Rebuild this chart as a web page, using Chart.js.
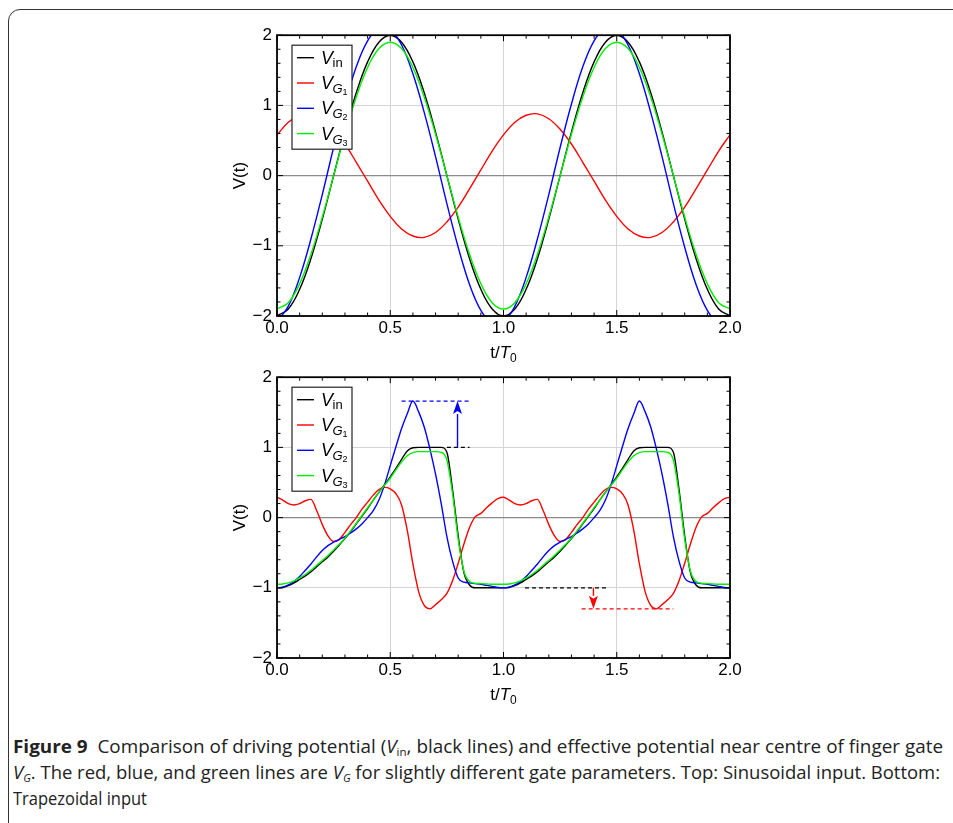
<!DOCTYPE html>
<html>
<head>
<meta charset="utf-8">
<script src="https://cdn.jsdelivr.net/npm/chart.js@4.4.1/dist/chart.umd.min.js"></script>
<style>
    html, body { margin: 0; padding: 0; background: #fff; width: 953px; height: 823px; overflow: hidden; }
    #frame { position: absolute; left: 8px; top: 9px; width: 1000px; height: 900px; border: 1.6px solid #333; border-top-left-radius: 12px; }
    canvas { position: absolute; }
    #topChart { left: 200px; top: 20px; }
    #bottomChart { left: 200px; top: 362px; }
    #caption { position: absolute; left: 13px; top: 733px; font-family: "Open Sans"; font-size: 18px; line-height: 26px; color: #222; }
    #caption .cl { white-space: nowrap; width: max-content; transform-origin: 0 0; }
    #caption sub { font-size: 11px; vertical-align: -3px; line-height: 0; }
</style>
</head>
<body>
<div id="frame"></div>
<canvas id="topChart" width="560" height="345"></canvas>
<canvas id="bottomChart" width="560" height="345"></canvas>
<div id="caption">
    <div class="cl"><b>Figure 9</b>&nbsp; Comparison of driving potential (<i>V</i><sub>in</sub>, black lines) and effective potential near centre of finger gate</div>
    <div class="cl"><i>V</i><sub><i>G</i></sub>. The red, blue, and green lines are <i>V</i><sub><i>G</i></sub> for slightly different gate parameters. Top: Sinusoidal input. Bottom:</div>
    <div class="cl">Trapezoidal input</div>
</div>
<script>
// --- Data: top panel (sinusoidal input) ---
const tTop = [0, 0.05, 0.1, 0.15, 0.2, 0.25, 0.3, 0.35, 0.4, 0.45, 0.5, 0.55, 0.6, 0.65, 0.7, 0.75, 0.8, 0.85, 0.9, 0.95,
    1, 1.05, 1.1, 1.15, 1.2, 1.25, 1.3, 1.35, 1.4, 1.45, 1.5, 1.55, 1.6, 1.65, 1.7, 1.75, 1.8, 1.85, 1.9, 1.95, 2];
const vinSine = [-2, -1.90, -1.62, -1.18, -0.62, 0, 0.62, 1.18, 1.62, 1.90, 2, 1.90, 1.62, 1.18, 0.62, 0, -0.62, -1.18, -1.62, -1.90,
    -2, -1.90, -1.62, -1.18, -0.62, 0, 0.62, 1.18, 1.62, 1.90, 2, 1.90, 1.62, 1.18, 0.62, 0, -0.62, -1.18, -1.62, -1.90, -2];
const vg1Sine = [0.58, 0.76, 0.86, 0.88, 0.81, 0.66, 0.45, 0.19, -0.08, -0.35, -0.58, -0.76, -0.86, -0.88, -0.81, -0.66, -0.45, -0.19, 0.08, 0.35,
    0.58, 0.76, 0.86, 0.88, 0.81, 0.66, 0.45, 0.19, -0.08, -0.35, -0.58, -0.76, -0.86, -0.88, -0.81, -0.66, -0.45, -0.19, 0.08, 0.35, 0.58];
const vg2Sine = [-2.08, -1.86, -1.45, -0.90, -0.27, 0.40, 1.02, 1.55, 1.92, 2.10, 2.08, 1.86, 1.45, 0.90, 0.27, -0.40, -1.02, -1.55, -1.92, -2.10,
    -2.08, -1.86, -1.45, -0.90, -0.27, 0.40, 1.02, 1.55, 1.92, 2.10, 2.08, 1.86, 1.45, 0.90, 0.27, -0.40, -1.02, -1.55, -1.92, -2.10, -2.08];
const vg3Sine = [-1.90, -1.81, -1.54, -1.12, -0.59, 0, 0.59, 1.12, 1.54, 1.81, 1.90, 1.81, 1.54, 1.12, 0.59, 0, -0.59, -1.12, -1.54, -1.81,
    -1.90, -1.81, -1.54, -1.12, -0.59, 0, 0.59, 1.12, 1.54, 1.81, 1.90, 1.81, 1.54, 1.12, 0.59, 0, -0.59, -1.12, -1.54, -1.81, -1.90];

// --- Data: bottom panel (trapezoidal input) ---
const tTrap = [0, 0.025, 0.05, 0.075, 0.1, 0.125, 0.15, 0.175, 0.2, 0.225, 0.25, 0.275, 0.3, 0.325, 0.35, 0.375, 0.4, 0.425, 0.45, 0.475,
    0.5, 0.525, 0.55, 0.575, 0.6, 0.625, 0.65, 0.675, 0.7, 0.725, 0.75, 0.775, 0.8, 0.825, 0.85, 0.875, 0.9, 0.925, 0.95, 0.975,
    1, 1.025, 1.05, 1.075, 1.1, 1.125, 1.15, 1.175, 1.2, 1.225, 1.25, 1.275, 1.3, 1.325, 1.35, 1.375, 1.4, 1.425, 1.45, 1.475,
    1.5, 1.525, 1.55, 1.575, 1.6, 1.625, 1.65, 1.675, 1.7, 1.725, 1.75, 1.775, 1.8, 1.825, 1.85, 1.875, 1.9, 1.925, 1.95, 1.975, 2];
const vinTrap = [-1, -0.995, -0.97, -0.93, -0.88, -0.83, -0.77, -0.70, -0.63, -0.56, -0.48, -0.39, -0.30, -0.20, -0.09, 0.02, 0.13, 0.25, 0.36, 0.47,
    0.58, 0.70, 0.83, 0.95, 0.995, 1, 1, 1, 1, 1, 0.93, 0.40, -0.26, -0.78, -0.96, -1, -1, -1, -1, -1,
    -1, -0.995, -0.97, -0.93, -0.88, -0.83, -0.77, -0.70, -0.63, -0.56, -0.48, -0.39, -0.30, -0.20, -0.09, 0.02, 0.13, 0.25, 0.36, 0.47,
    0.58, 0.70, 0.83, 0.95, 0.995, 1, 1, 1, 1, 1, 0.93, 0.40, -0.26, -0.78, -0.96, -1, -1, -1, -1, -1, -1];
const vg1Trap = [0.29, 0.25, 0.20, 0.18, 0.20, 0.24, 0.26, 0.10, -0.10, -0.26, -0.34, -0.31, -0.21, -0.10, 0.00, 0.12, 0.22, 0.32, 0.40, 0.43,
    0.41, 0.34, 0.18, -0.18, -0.66, -1.05, -1.25, -1.30, -1.24, -1.17, -1.08, -0.90, -0.65, -0.38, -0.14, 0.01, 0.06, 0.14, 0.21, 0.27,
    0.29, 0.25, 0.20, 0.18, 0.20, 0.24, 0.26, 0.10, -0.10, -0.26, -0.34, -0.31, -0.21, -0.10, 0.00, 0.12, 0.22, 0.32, 0.40, 0.43,
    0.41, 0.34, 0.18, -0.18, -0.66, -1.05, -1.25, -1.30, -1.24, -1.17, -1.08, -0.90, -0.65, -0.38, -0.14, 0.01, 0.06, 0.14, 0.21, 0.27, 0.29];
const vg2Trap = [-1, -0.99, -0.96, -0.91, -0.84, -0.75, -0.66, -0.56, -0.47, -0.40, -0.35, -0.31, -0.27, -0.22, -0.16, -0.09, 0.00, 0.10, 0.25, 0.47,
    0.74, 1.01, 1.27, 1.48, 1.66, 1.51, 1.29, 0.98, 0.62, 0.20, -0.27, -0.62, -0.86, -0.92, -0.93, -0.94, -0.95, -0.965, -0.98, -0.995,
    -1, -0.99, -0.96, -0.91, -0.84, -0.75, -0.66, -0.56, -0.47, -0.40, -0.35, -0.31, -0.27, -0.22, -0.16, -0.09, 0.00, 0.10, 0.25, 0.47,
    0.74, 1.01, 1.27, 1.48, 1.66, 1.51, 1.29, 0.98, 0.62, 0.20, -0.27, -0.62, -0.86, -0.92, -0.93, -0.94, -0.95, -0.965, -0.98, -0.995, -1];
const vg3Trap = [-0.95, -0.945, -0.93, -0.90, -0.86, -0.81, -0.75, -0.68, -0.61, -0.54, -0.46, -0.38, -0.29, -0.19, -0.08, 0.03, 0.14, 0.25, 0.36, 0.46,
    0.56, 0.68, 0.79, 0.88, 0.925, 0.94, 0.94, 0.94, 0.94, 0.93, 0.82, 0.34, -0.31, -0.76, -0.91, -0.935, -0.94, -0.945, -0.95, -0.95,
    -0.95, -0.945, -0.93, -0.90, -0.86, -0.81, -0.75, -0.68, -0.61, -0.54, -0.46, -0.38, -0.29, -0.19, -0.08, 0.03, 0.14, 0.25, 0.36, 0.46,
    0.56, 0.68, 0.79, 0.88, 0.925, 0.94, 0.94, 0.94, 0.94, 0.93, 0.82, 0.34, -0.31, -0.76, -0.91, -0.935, -0.94, -0.945, -0.95, -0.95, -0.95];

// overshoot / undershoot guides in the bottom panel
const blueLevelT = [0.55, 0.85], blueLevelV = [1.66, 1.66];
const vinHighT = [0.75, 0.85], vinHighV = [1, 1];
const vinLowT = [1.095, 1.455], vinLowV = [-1, -1];
const redLevelT = [1.345, 1.75], redLevelV = [-1.3, -1.3];
const arrowT = [0.797, 1.397], arrowFromV = [1, -1], arrowToV = [1.66, -1.3];

// tick labels
const xTicks = [0, 0.5, 1, 1.5, 2];
const yTicks = [-2, -1, 0, 1, 2];
const legendSubs = ['in', 'G1', 'G2', 'G3'];

// --- Styles ---
const FONT = '"Liberation Sans", Arial, sans-serif';
const colors = ['#000000', '#ff0000', '#0000ff', '#00f000'];
const arrowColors = ['#0000ff', '#ff0000'];
const captionWidths = [930, 927, 134];
Chart.defaults.font.family = FONT;

const pts = (ts, vs) => ts.map((t, i) => ({ x: t, y: vs[i] }));

function curves(series, smooth) {
    return series.map((vs, i) => Object.assign({
        data: pts(series.ts, vs),
        borderColor: colors[i],
        borderWidth: 1.4,
        pointRadius: 0,
        fill: false,
        order: 3 - i
    }, smooth));
}

function guide(ts, vs, color) {
    return { data: pts(ts, vs), borderColor: color, borderWidth: 1.3, borderDash: [4, 3], pointRadius: 0, tension: 0, order: 5 };
}

// --- Plugins ---
const legendBox = {
    id: 'legendBox',
    afterDatasetsDraw(chart) {
        const { ctx, chartArea: a } = chart;
        const bx = a.left + 15, by = a.top + 10, bw = 60, bh = 104;
        ctx.save();
        ctx.fillStyle = '#fff';
        ctx.fillRect(bx, by, bw, bh);
        ctx.strokeStyle = '#222';
        ctx.lineWidth = 1.2;
        ctx.strokeRect(bx, by, bw, bh);
        legendSubs.forEach((sub, i) => {
            const cy = by + 12.5 + i * 25.3;
            ctx.strokeStyle = colors[i];
            ctx.lineWidth = 1.4;
            ctx.beginPath();
            ctx.moveTo(bx + 5, cy);
            ctx.lineTo(bx + 22, cy);
            ctx.stroke();
            ctx.fillStyle = '#000';
            ctx.textBaseline = 'alphabetic';
            let x = bx + 29;
            const base = cy + 6;
            ctx.font = 'italic 18px ' + FONT;
            ctx.fillText('V', x, base);
            x += ctx.measureText('V').width - 0.5;
            if (sub === 'in') {
                ctx.font = '13px ' + FONT;
                ctx.fillText('in', x, base + 3);
            } else {
                ctx.font = 'italic 13px ' + FONT;
                ctx.fillText('G', x, base + 4);
                x += ctx.measureText('G').width;
                ctx.font = '9px ' + FONT;
                ctx.fillText(sub.slice(1), x, base + 6);
            }
        });
        ctx.restore();
    }
};

const frameTicks = {
    id: 'frameTicks',
    afterDraw(chart) {
        const { ctx, chartArea: a, scales: { x, y } } = chart;
        ctx.save();
        ctx.strokeStyle = '#000';
        ctx.lineWidth = 1;
        ctx.beginPath();
        for (let k = 0; k <= 20; k++) {
            const px = x.getPixelForValue(k * 0.1);
            const len = k % 5 === 0 ? 6 : 3.5;
            ctx.moveTo(px, a.bottom); ctx.lineTo(px, a.bottom - len);
            ctx.moveTo(px, a.top); ctx.lineTo(px, a.top + len);
        }
        for (let k = 0; k <= 20; k++) {
            const py = y.getPixelForValue(-2 + k * 0.2);
            const len = k % 5 === 0 ? 6 : 3.5;
            ctx.moveTo(a.left, py); ctx.lineTo(a.left + len, py);
            ctx.moveTo(a.right, py); ctx.lineTo(a.right - len, py);
        }
        ctx.stroke();
        ctx.lineWidth = 1.8;
        ctx.strokeRect(a.left, a.top, a.right - a.left, a.bottom - a.top);

        // axis titles
        ctx.fillStyle = '#000';
        const parts = [['t/', '17px ' + FONT, 0], ['T', 'italic 17px ' + FONT, 0], ['0', '12px ' + FONT, 4]];
        let total = 0;
        parts.forEach(p => { ctx.font = p[1]; total += ctx.measureText(p[0]).width; });
        let tx = (a.left + a.right) / 2 - total / 2;
        parts.forEach(p => {
            ctx.font = p[1];
            ctx.fillText(p[0], tx, a.bottom + 42 + p[2]);
            tx += ctx.measureText(p[0]).width;
        });
        ctx.translate(a.left - 37, (a.top + a.bottom) / 2);
        ctx.rotate(-Math.PI / 2);
        ctx.font = '17px ' + FONT;
        ctx.textAlign = 'center';
        ctx.textBaseline = 'middle';
        ctx.fillText('V(t)', 0, 0);
        ctx.restore();
    }
};

const levelArrows = {
    id: 'levelArrows',
    afterDatasetsDraw(chart) {
        const { ctx, scales: { x, y } } = chart;
        arrowT.forEach((t, i) => {
            const px = x.getPixelForValue(t);
            const y0 = y.getPixelForValue(arrowFromV[i]);
            const y1 = y.getPixelForValue(arrowToV[i]);
            const dir = Math.sign(y1 - y0);
            const head = 13;
            ctx.save();
            ctx.strokeStyle = arrowColors[i];
            ctx.fillStyle = arrowColors[i];
            ctx.lineWidth = 1.4;
            ctx.beginPath();
            ctx.moveTo(px, y0);
            ctx.lineTo(px, y1 - dir * head);
            ctx.stroke();
            ctx.beginPath();
            ctx.moveTo(px, y1);
            ctx.lineTo(px - 4.5, y1 - dir * head);
            ctx.lineTo(px, y1 - dir * (head - 3));
            ctx.lineTo(px + 4.5, y1 - dir * head);
            ctx.closePath();
            ctx.fill();
            ctx.restore();
        });
    }
};

function chartOptions() {
    const tickFont = { family: FONT, size: 17 };
    return {
        responsive: false,
        animation: false,
        devicePixelRatio: 1,
        layout: { padding: { top: 14, right: 30, left: 0, bottom: 0 } },
        plugins: { legend: { display: false }, tooltip: { enabled: false } },
        elements: { line: { capBezierPoints: false } },
        scales: {
            x: {
                type: 'linear', min: xTicks[0], max: xTicks[xTicks.length - 1],
                afterFit: s => { s.height = 49; },
                afterBuildTicks: s => { s.ticks = xTicks.map(v => ({ value: v })); },
                ticks: { padding: 2, color: '#000', font: tickFont, maxRotation: 0, autoSkip: false, callback: v => v.toFixed(1) },
                grid: { color: '#d4d4d4', lineWidth: 1, drawTicks: false },
                border: { display: false }
            },
            y: {
                type: 'linear', min: yTicks[0], max: yTicks[yTicks.length - 1],
                afterFit: s => { s.width = 77; },
                afterBuildTicks: s => { s.ticks = yTicks.map(v => ({ value: v })); },
                ticks: { padding: 5, color: '#000', font: tickFont, callback: v => (v < 0 ? '\u2212' + Math.abs(v) : String(v)) },
                grid: {
                    color: c => (c.tick && c.tick.value === 0 ? '#8a8a8a' : '#d4d4d4'),
                    lineWidth: c => (c.tick && c.tick.value === 0 ? 1.3 : 1),
                    drawTicks: false
                },
                border: { display: false }
            }
        }
    };
}

// --- Top chart ---
const topSeries = [vinSine, vg1Sine, vg2Sine, vg3Sine];
topSeries.ts = tTop;
new Chart(document.getElementById('topChart'), {
    type: 'line',
    data: { datasets: curves(topSeries, { tension: 0.4 }) },
    options: chartOptions(),
    plugins: [legendBox, frameTicks]
});

// --- Bottom chart ---
const bottomSeries = [vinTrap, vg1Trap, vg2Trap, vg3Trap];
bottomSeries.ts = tTrap;
new Chart(document.getElementById('bottomChart'), {
    type: 'line',
    data: {
        datasets: curves(bottomSeries, { cubicInterpolationMode: 'monotone' }).concat([
            guide(blueLevelT, blueLevelV, '#0000ff'),
            guide(vinHighT, vinHighV, '#000000'),
            guide(vinLowT, vinLowV, '#000000'),
            guide(redLevelT, redLevelV, '#ff0000')
        ])
    },
    options: chartOptions(),
    plugins: [levelArrows, legendBox, frameTicks]
});

// --- Caption: squeeze each line to the condensed width of the original ---
document.querySelectorAll('#caption .cl').forEach((l, i) => {
    l.style.transform = `scaleX(${captionWidths[i] / l.getBoundingClientRect().width})`;
});
</script>
</body>
</html>
